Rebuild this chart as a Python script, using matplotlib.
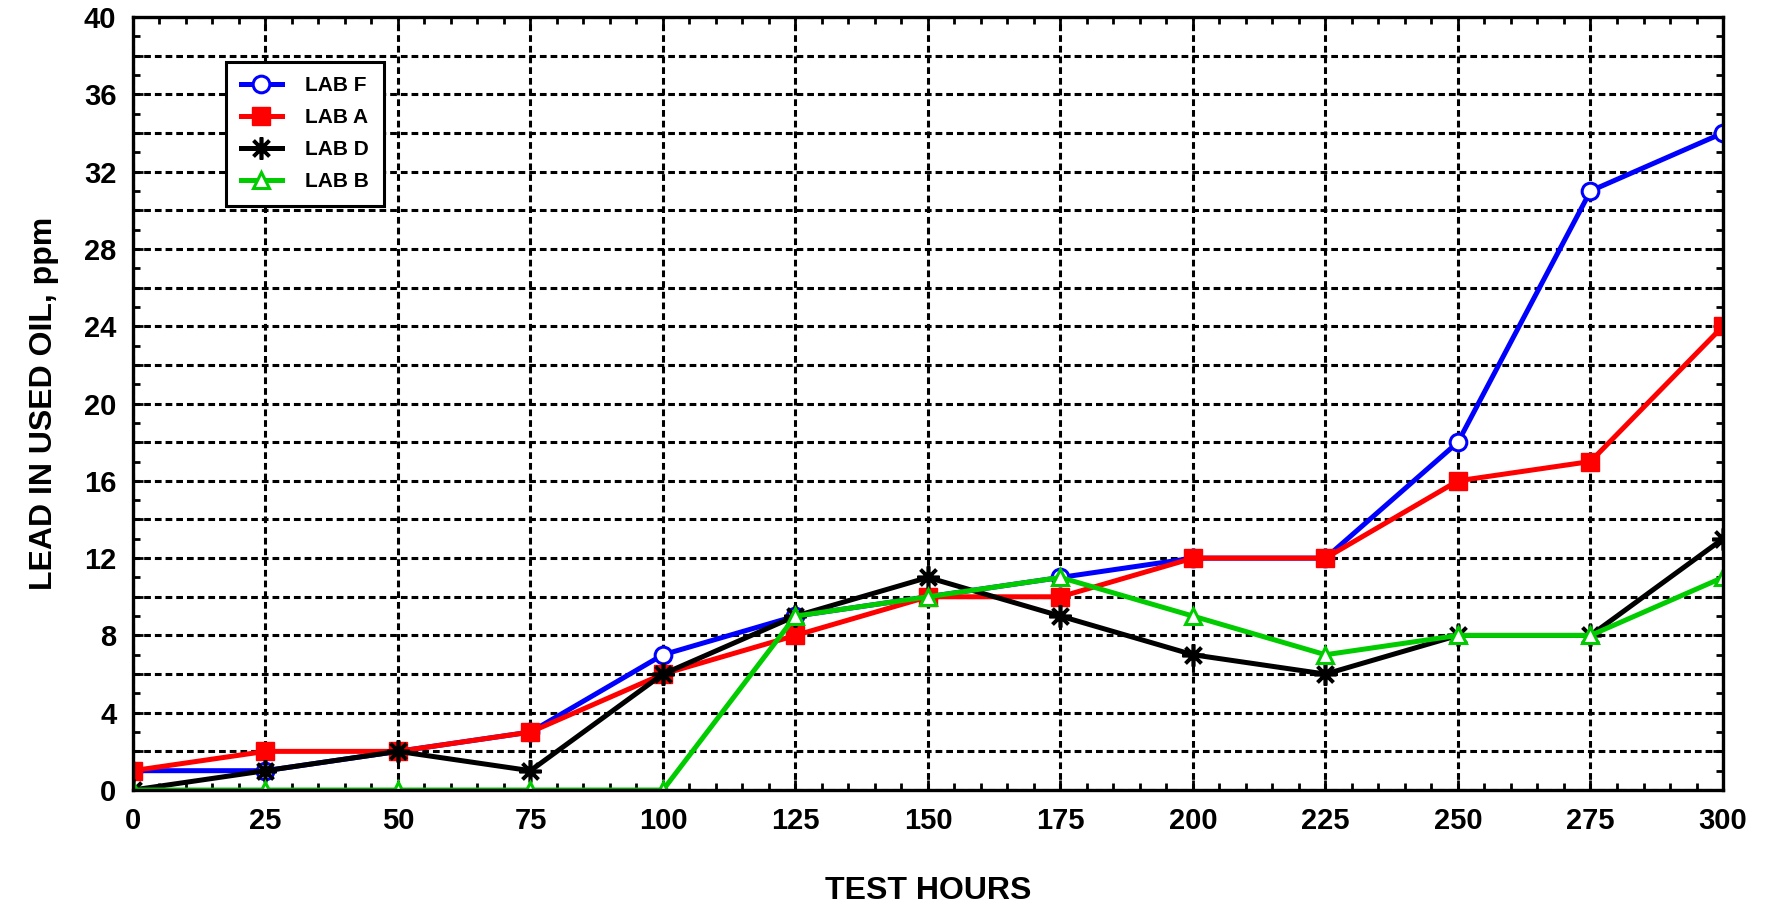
import matplotlib
matplotlib.use("Agg")
import matplotlib.pyplot as plt
from matplotlib.ticker import MultipleLocator, FuncFormatter

hours = [0, 25, 50, 75, 100, 125, 150, 175, 200, 225, 250, 275, 300]
lab_f = [1, 1, 2, 3, 7, 9, 10, 11, 12, 12, 18, 31, 34]
lab_a = [1, 2, 2, 3, 6, 8, 10, 10, 12, 12, 16, 17, 24]
lab_d = [0, 1, 2, 1, 6, 9, 11, 9, 7, 6, 8, 8, 13]
lab_b = [0, 0, 0, 0, 0, 9, 10, 11, 9, 7, 8, 8, 11]

plt.rcParams['font.family'] = ['Liberation Sans', 'DejaVu Sans']
plt.rcParams['font.weight'] = 'bold'

fig = plt.figure(figsize=(17.73, 9.11), dpi=100)
ax = fig.add_axes([0.075, 0.1328, 0.8968, 0.8485])

ax.plot(hours, lab_f, color='#0000FF', lw=3.6, marker='o', ms=12, mfc='white',
        mec='#0000FF', mew=2.2, label='LAB F')
ax.plot(hours, lab_a, color='#FF0000', lw=3.6, marker='s', ms=13, mfc='#FF0000',
        mec='#FF0000', mew=1, label='LAB A')
ax.plot(hours, lab_d, color='black', lw=3.6, marker=(8, 2, 0), ms=16,
        mec='black', mew=2.6, label='LAB D')
ax.plot(hours, lab_b, color='#00CC00', lw=3.6, marker='^', ms=12, mfc='white',
        mec='#00CC00', mew=2.2, label='LAB B')

ax.set_xlim(0, 300)
ax.set_ylim(0, 40)
ax.xaxis.set_major_locator(MultipleLocator(25))
ax.xaxis.set_minor_locator(MultipleLocator(5))
ax.yaxis.set_major_locator(MultipleLocator(2))
ax.yaxis.set_minor_locator(MultipleLocator(1))
ax.yaxis.set_major_formatter(FuncFormatter(lambda v, p: f"{int(round(v))}" if round(v) % 4 == 0 else ""))

ax.grid(True, which='major', color='black', lw=2.2, linestyle=(0, (2.2, 1.3)))
ax.set_axisbelow(True)

ax.tick_params(which='both', direction='in', top=True, right=True, width=2,
               labelsize=21)
ax.tick_params(which='major', length=7)
ax.tick_params(which='minor', length=5)
ax.tick_params(axis='y', pad=12)
ax.tick_params(axis='x', pad=12)
for lab in ax.get_xticklabels() + ax.get_yticklabels():
    lab.set_fontweight('bold')

for s in ax.spines.values():
    s.set_linewidth(2.4)

ax.set_xlabel('TEST HOURS', fontsize=23, fontweight='bold', labelpad=30)
ax.set_ylabel('LEAD IN USED OIL, ppm', fontsize=23, fontweight='bold', labelpad=18)

leg = ax.legend(loc='upper left', bbox_to_anchor=(0.0585, 0.942), borderaxespad=0,
                fancybox=False, framealpha=1, edgecolor='black', fontsize=15,
                handlelength=2.0, labelspacing=0.62, borderpad=0.7,
                handletextpad=1.1)
leg.get_frame().set_linewidth(2.2)
for t in leg.get_texts():
    t.set_fontweight('bold')

fig.savefig('out.png', dpi=100)
